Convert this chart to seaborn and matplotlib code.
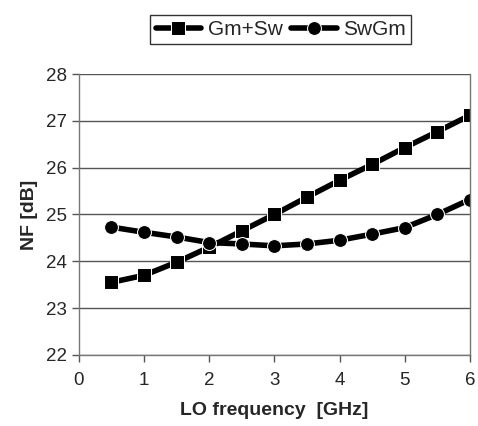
import pandas as pd
import seaborn as sns
import matplotlib.pyplot as plt

freq = [0.5, 1.0, 1.5, 2.0, 2.5, 3.0, 3.5, 4.0, 4.5, 5.0, 5.5, 6.0]
nf_gm_sw = [23.55, 23.70, 23.98, 24.30, 24.65, 25.00, 25.37, 25.73, 26.07, 26.43, 26.77, 27.12]
nf_swgm = [24.73, 24.62, 24.52, 24.40, 24.37, 24.33, 24.37, 24.45, 24.58, 24.72, 25.00, 25.32]
series = ["Gm+Sw", "SwGm"]

df = pd.concat([
    pd.DataFrame({"freq": freq, "nf": nf_gm_sw, "s": series[0]}),
    pd.DataFrame({"freq": freq, "nf": nf_swgm, "s": series[1]}),
])

sns.set_style("white")
plt.rcParams['font.family'] = ['Liberation Sans', 'DejaVu Sans']

fig = plt.figure(figsize=(4.78, 4.26), dpi=100)
ax = fig.add_axes([0.165, 0.167, 0.818, 0.659])

sns.lineplot(data=df, x="freq", y="nf", hue="s", style="s",
             palette=["black", "black"], markers={"Gm+Sw": "s", "SwGm": "o"},
             dashes=False, linewidth=4, markersize=10, ax=ax, legend=True)

ax.set_xlim(0, 6)
ax.set_ylim(22, 28)
ax.set_xticks(range(0, 7))
ax.set_yticks(range(22, 29))
ax.yaxis.grid(True, color="#555555", linewidth=1)
ax.set_axisbelow(True)
for sp in ["left", "bottom", "right"]:
    ax.spines[sp].set_visible(True)
    ax.spines[sp].set_color("#777777")
    ax.spines[sp].set_linewidth(1)
ax.spines["top"].set_visible(False)
ax.tick_params(axis="both", direction="out", length=5, width=1, color="#555555",
               labelsize=13.5, bottom=True, left=True)
ax.tick_params(axis="x", pad=7)
ax.set_xlabel("LO frequency  [GHz]", fontsize=14, fontweight="bold", labelpad=10)
ax.set_ylabel("NF [dB]", fontsize=14, fontweight="bold", labelpad=6)

handles, labels = ax.get_legend_handles_labels()
leg = fig.legend(handles, labels, loc="upper center", bbox_to_anchor=(0.587, 0.99),
                 ncol=2, frameon=True, fancybox=False, edgecolor="black",
                 fontsize=15, handlelength=2.2, columnspacing=0.4, handletextpad=0.3,
                 borderpad=0.25)
leg.get_frame().set_linewidth(1)
ax.get_legend().remove()

fig.savefig("out.png", dpi=100)
